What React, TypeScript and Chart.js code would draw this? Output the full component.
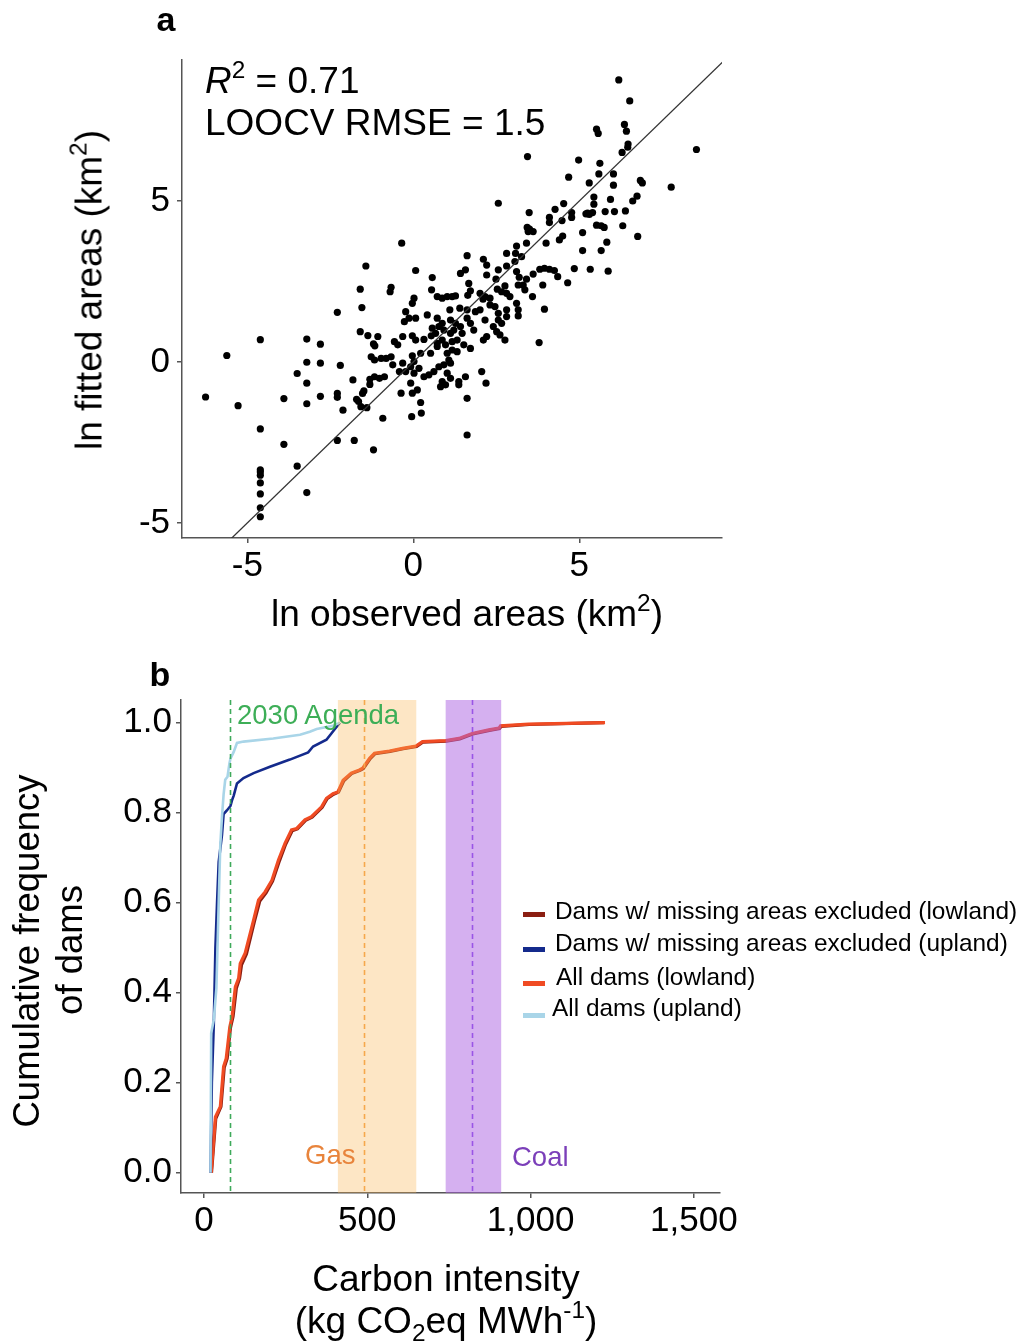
import React, { useEffect, useRef } from 'react';
import { Chart, registerables } from 'chart.js';

Chart.register(...registerables);

const FONT = "'Liberation Sans', Arial, Helvetica, sans-serif";
const AXIS = '#555555';

// ---------------- Panel a data ----------------
const scatterPoints: [number, number][] = [
  // upper points
  [6.19, 8.76], [6.52, 8.11], [5.52, 7.23], [5.57, 7.10], [6.36, 7.38], [6.42, 7.17], [6.47, 6.77],
  [6.46, 6.67], [6.29, 6.51], [8.53, 6.60], [3.44, 6.38], [4.98, 6.27], [5.62, 6.17],
  // high points
  [3.49, 4.64], [3.50, 4.13], [3.43, 4.18], [4.10, 4.33], [4.10, 4.49], [4.27, 4.74], [4.53, 4.92],
  [4.68, 5.74], [4.77, 4.49], [4.77, 4.64], [5.20, 4.60], [5.25, 4.62], [5.30, 4.58], [5.40, 4.64],
  [5.30, 5.56], [5.44, 5.12], [5.44, 4.90], [5.59, 5.84], [5.66, 4.23], [5.75, 4.18], [5.52, 4.25],
  [5.78, 4.67], [6.06, 4.67], [5.94, 5.05], [6.03, 5.49], [6.03, 5.84], [6.31, 4.23], [6.39, 4.69],
  [6.61, 5.00], [6.74, 5.15], [6.84, 5.64], [6.90, 5.56], [7.77, 5.43], [2.56, 4.93], [4.48, 4.39],
  // right points
  [5.10, 4.02], [5.10, 3.46], [5.33, 2.88], [5.66, 3.46], [5.83, 3.72], [5.87, 2.82], [6.76, 3.90], [4.85, 2.90],
  // lower-left points
  [-6.26, -1.09], [-5.62, 0.20], [-5.28, -1.36], [-4.61, 0.69], [-4.61, -2.08], [-4.61, -3.35], [-4.61, -3.42],
  [-4.61, -3.52], [-4.61, -3.76], [-4.61, -4.10], [-4.61, -4.53], [-4.61, -4.81], [-3.90, -1.14], [-3.90, -2.56],
  [-3.50, -3.24], [-3.50, -0.36], [-3.21, 0.71], [-3.21, -0.01], [-3.21, -0.66], [-3.21, -1.30], [-3.21, -4.06],
  [-2.80, 0.55], [-2.80, -0.04], [-2.80, -1.07], [-2.29, 1.54], [-2.29, -0.98], [-2.29, -1.10], [-2.20, -0.11],
  [-2.29, -2.44], [-2.12, -1.50], [-1.82, -0.56], [-1.78, -2.44], [-1.60, 2.26], [-1.55, 1.69], [-1.60, 0.94],
  [-1.43, 2.98], [-1.37, 0.82], [-1.71, -1.16], [-1.65, -1.23], [-1.58, -1.39], [-1.49, -0.90], [-1.53, -0.98],
  [-1.40, -1.42], [-1.31, -0.70], [-1.31, -0.54], [-1.20, -2.73], [-1.20, 0.56], [-1.16, 0.50],
  // core points
  [3.46, 4.05], [3.61, 4.05], [4.50, 3.91], [4.40, 3.79], [4.00, 3.69], [3.41, 3.69], [3.11, 3.60], [-0.35, 3.69],
  [1.62, 3.30], [2.11, 3.19], [2.81, 3.37], [3.08, 3.37], [3.26, 3.27], [3.06, 3.12], [2.21, 3.01], [2.56, 2.86],
  [2.81, 2.98], [1.42, 2.75], [1.57, 2.86], [0.07, 2.84], [0.57, 2.62], [2.21, 2.70], [2.49, 2.57], [3.11, 2.81],
  [3.19, 2.63], [3.41, 2.57], [3.61, 2.73], [3.81, 2.88], [3.95, 2.91], [4.10, 2.88], [4.25, 2.84], [4.35, 2.65],
  [4.65, 2.46], [3.90, 2.39], [3.59, 2.03], [3.95, 1.64], [3.79, 0.60],
  [-0.67, 2.32], [-0.70, 2.18], [0.55, 2.24], [1.67, 2.44], [1.72, 2.21], [1.64, 2.07], [2.01, 2.13], [2.16, 2.03],
  [2.31, 1.98], [2.53, 2.26], [2.66, 2.18], [2.76, 2.36], [2.81, 2.13], [2.91, 2.03], [3.16, 2.39], [3.31, 2.39],
  [3.36, 2.24], [3.11, 1.82], [3.16, 1.62], [3.16, 1.43],
  [0.72, 2.03], [0.87, 1.98], [1.02, 2.03], [1.17, 2.03], [1.27, 2.05], [0.02, 1.98], [-0.03, 1.82], [1.10, 1.62],
  [1.40, 1.67], [1.62, 1.62], [1.87, 1.56], [2.10, 1.95], [2.31, 1.77], [2.46, 1.72], [2.56, 1.51], [2.81, 1.62],
  [2.81, 1.41], [2.56, 1.30], [2.66, 1.20], [2.41, 1.10], [2.16, 1.30], [2.01, 1.62],
  [-0.23, 1.56], [-0.13, 1.36], [-0.27, 1.25], [0.07, 1.36], [0.42, 1.46], [0.72, 1.36], [0.87, 1.20], [1.12, 1.30],
  [1.27, 1.20], [1.42, 1.10], [1.62, 1.36], [1.72, 1.20], [1.82, 0.99], [1.47, 0.89], [1.22, 0.99], [1.12, 0.89],
  [0.92, 0.99], [0.77, 1.10], [0.67, 0.89], [0.57, 1.05],
  [-1.07, 0.79], [-0.57, 0.63], [-0.32, 0.79], [-0.03, 0.81], [0.07, 0.68], [0.32, 0.70], [0.54, 0.81], [0.72, 0.58],
  [0.87, 0.68], [0.97, 0.53], [1.17, 0.63], [1.32, 0.68], [1.52, 0.53], [1.72, 0.42], [2.11, 0.68], [2.21, 0.79],
  [2.51, 0.94], [2.61, 0.84], [2.76, 0.68],
  [-1.27, 0.16], [-1.17, 0.06], [-0.97, 0.11], [-0.82, 0.11], [-0.67, 0.16], [-0.47, 0.53], [-0.32, -0.04],
  [-0.03, 0.19], [0.02, 0.01], [0.22, 0.27], [0.52, 0.27], [0.72, 0.48], [1.02, 0.27], [1.07, 0.06], [1.17, 0.37],
  [1.32, 0.32],
  [-1.17, -0.46], [-1.02, -0.51], [-0.87, -0.46], [-0.62, -0.09], [-0.42, -0.30], [-0.23, -0.30], [-0.08, -0.15],
  [0.02, -0.35], [0.17, -0.20], [0.32, -0.46], [0.47, -0.40], [0.62, -0.30], [0.77, -0.15], [0.92, -0.09],
  [1.12, -0.04], [1.02, -0.35], [1.12, -0.51], [0.87, -0.61], [0.82, -0.77], [0.97, -0.71], [1.37, -0.61],
  [1.37, -0.71], [1.57, -0.46], [2.06, -0.30], [2.19, -0.66],
  [-0.37, -0.97], [-0.08, -0.66], [-0.03, -0.97], [0.12, -0.87], [0.22, -1.26], [0.24, -1.59], [-0.05, -1.70],
  [-0.92, -1.75], [1.62, -1.13], [1.62, -2.27],
];
const identityLine: [number, number][] = [[-8, -8], [11, 11]];
const aXRange = [-6.97, 9.3];
const aYRange = [-5.47, 9.38];
const aXTicks = [-5, 0, 5];
const aXTickLabels = ['-5', '0', '5'];
const aYTicks = [-5, 0, 5];
const aYTickLabels = ['-5', '0', '5'];

// ---------------- Panel b data ----------------
const allUpland: [number, number][] = [
  [20, 0], [22, 0.31], [30, 0.34], [38, 0.41], [45, 0.6], [50, 0.73], [55, 0.79], [60, 0.84], [65, 0.873],
  [72, 0.88], [78, 0.91], [81, 0.92], [91, 0.935], [101, 0.955], [121, 0.958], [212, 0.965], [294, 0.973],
  [324, 0.98], [345, 0.986], [395, 0.993], [416, 1.0],
];
const excludedUpland: [number, number][] = [
  [20, 0], [24, 0.2], [30, 0.33], [35, 0.5], [40, 0.6], [45, 0.69], [55, 0.75], [60, 0.797], [70, 0.805],
  [81, 0.815], [86, 0.828], [91, 0.838], [101, 0.865], [121, 0.877], [152, 0.888], [202, 0.902], [263, 0.918],
  [319, 0.934], [334, 0.947], [375, 0.962], [390, 0.976], [416, 1.0],
];
const allLowland: [number, number][] = [
  [22, 0], [35, 0.124], [50, 0.147], [60, 0.236], [68, 0.254], [79, 0.324], [86, 0.347], [96, 0.413],
  [106, 0.432], [111, 0.465], [126, 0.488], [152, 0.562], [167, 0.606], [187, 0.624], [208, 0.65], [228, 0.695],
  [248, 0.732], [268, 0.762], [284, 0.765], [309, 0.784], [329, 0.791], [360, 0.813], [375, 0.832], [395, 0.842],
  [410, 0.846], [426, 0.872], [451, 0.888], [476, 0.895], [486, 0.899], [507, 0.921], [522, 0.932], [568, 0.937],
  [608, 0.943], [649, 0.948], [669, 0.958], [740, 0.96], [781, 0.965], [821, 0.976], [872, 0.984], [903, 0.988],
  [908, 0.993], [994, 0.997], [1228, 1.0],
];
const excludedLowland: [number, number][] = [
  [23, 0], [36, 0.12], [52, 0.147], [62, 0.234], [71, 0.254], [81, 0.322], [89, 0.347], [99, 0.41],
  [109, 0.432], [115, 0.462], [130, 0.486], [155, 0.56], [171, 0.604], [190, 0.622], [210, 0.648], [231, 0.693],
  [250, 0.73], [270, 0.76], [286, 0.764], [311, 0.783], [331, 0.79], [362, 0.812], [377, 0.831], [397, 0.841],
  [412, 0.846], [428, 0.871], [452, 0.887], [478, 0.894], [488, 0.898], [509, 0.92], [524, 0.931], [570, 0.936],
  [610, 0.942], [651, 0.947], [671, 0.957], [742, 0.959], [783, 0.964], [823, 0.975], [874, 0.983], [905, 0.987],
  [910, 0.992], [996, 0.996], [1225, 1.0],
];
const bXRange = [-70.4, 1580];
const bYRange = [-0.045, 1.0504];
const bXTicks = [0, 500, 1000, 1500];
const bXTickLabels = ['0', '500', '1,000', '1,500'];
const bYTicks = [0, 0.2, 0.4, 0.6, 0.8, 1.0];
const bYTickLabels = ['0.0', '0.2', '0.4', '0.6', '0.8', '1.0'];
const agendaTarget = 80;
const gasRange = [410, 650];
const gasMedian = 490;
const coalRange = [740, 910];
const coalMedian = 820;

const COLORS = {
  excludedLowland: '#8B1E12',
  excludedUpland: '#142A8C',
  allLowland: '#F04B23',
  allUpland: '#A9D5E8',
};

const toXY = (arr: [number, number][]) => arr.map(([x, y]) => ({ x, y }));

function axisOpts(range: number[], ticks: number[], labels: string[], size: number, fit: (s: any) => void, pad: number) {
  return {
    type: 'linear' as const,
    min: range[0],
    max: range[1],
    afterFit: fit,
    afterBuildTicks: (axis: any) => {
      axis.ticks = ticks.map((v) => ({ value: v }));
    },
    ticks: {
      autoSkip: false,
      maxRotation: 0,
      padding: pad,
      color: '#000',
      font: { family: FONT, size },
      callback: (v: any) => labels[ticks.indexOf(Number(v))] ?? '',
    },
    grid: { display: true, drawOnChartArea: false, drawTicks: true, tickLength: 5, color: AXIS, lineWidth: 1.5 },
    border: { display: true, color: AXIS, width: 1.5 },
  };
}

const bandPlugin = {
  id: 'energyBands',
  afterDatasetsDraw(chart: any) {
    const { ctx, chartArea, scales } = chart;
    const x = scales.x;
    const { top, bottom } = chartArea;
    ctx.save();
    const band = (r: number[], color: string) => {
      const a = x.getPixelForValue(r[0]);
      const b = x.getPixelForValue(r[1]);
      ctx.fillStyle = color;
      ctx.fillRect(a, top, b - a, bottom - top);
    };
    band(gasRange, 'rgba(250,180,80,0.33)');
    band(coalRange, 'rgba(171,97,225,0.5)');
    const dash = (v: number, color: string) => {
      const px = Math.round(x.getPixelForValue(v)) + 0.5;
      ctx.strokeStyle = color;
      ctx.lineWidth = 1.6;
      ctx.setLineDash([5, 4]);
      ctx.beginPath();
      ctx.moveTo(px, top);
      ctx.lineTo(px, bottom);
      ctx.stroke();
    };
    dash(agendaTarget, '#3FAA5B');
    dash(gasMedian, '#F6A84C');
    dash(coalMedian, '#9A55E6');
    ctx.restore();
  },
};

const Sup = ({ children }: { children: React.ReactNode }) => (
  <span style={{ fontSize: '0.66em', position: 'relative', top: '-0.6em' }}>{children}</span>
);
const Sub = ({ children }: { children: React.ReactNode }) => (
  <span style={{ fontSize: '0.66em', position: 'relative', top: '0.32em' }}>{children}</span>
);

type TxtProps = {
  x: number; y: number; size: number; children: React.ReactNode;
  anchor?: 'left' | 'center'; rotate?: boolean; color?: string; bold?: boolean;
};
const Txt = ({ x, y, size, children, anchor = 'center', rotate = false, color = '#000', bold = false }: TxtProps) => (
  <div
    style={{
      position: 'absolute',
      left: x,
      top: y,
      fontSize: size,
      lineHeight: 1,
      whiteSpace: 'nowrap',
      color,
      fontWeight: bold ? 'bold' : 'normal',
      fontFamily: FONT,
      transform: `translate(${anchor === 'center' ? '-50%' : '0'}, -50%)${rotate ? ' rotate(-90deg)' : ''}`,
      transformOrigin: 'center',
    }}
  >
    {children}
  </div>
);

const legendItems = [
  { label: 'Dams w/ missing areas excluded (lowland)', color: COLORS.excludedLowland, y: 911, sy: 914, tx: 555 },
  { label: 'Dams w/ missing areas excluded (upland)', color: COLORS.excludedUpland, y: 943, sy: 949, tx: 555 },
  { label: 'All dams (lowland)', color: COLORS.allLowland, y: 977, sy: 983, tx: 556 },
  { label: 'All dams (upland)', color: COLORS.allUpland, y: 1008, sy: 1015, tx: 552 },
];

export default function App() {
  const aRef = useRef<HTMLCanvasElement>(null);
  const bRef = useRef<HTMLCanvasElement>(null);

  useEffect(() => {
    const chartA = new Chart(aRef.current as HTMLCanvasElement, {
      type: 'scatter',
      data: {
        datasets: [
          {
            data: toXY(identityLine),
            showLine: true,
            borderColor: '#333333',
            borderWidth: 1.3,
            pointRadius: 0,
          } as any,
          {
            data: toXY(scatterPoints),
            backgroundColor: '#000',
            borderWidth: 0,
            pointRadius: 3.6,
          } as any,
        ],
      },
      options: {
        animation: false,
        responsive: false,
        devicePixelRatio: 1,
        layout: { padding: { left: 0, top: 60, right: 296, bottom: 0 } },
        plugins: { legend: { display: false }, tooltip: { enabled: false } },
        scales: {
          x: axisOpts(aXRange, aXTicks, aXTickLabels, 35, (s: any) => { s.height = 112; }, 2) as any,
          y: axisOpts(aYRange, aYTicks, aYTickLabels, 35, (s: any) => { s.width = 182; }, 7) as any,
        },
      },
    });

    const line = (d: [number, number][], color: string, w: number) => ({
      data: toXY(d),
      showLine: true,
      borderColor: color,
      backgroundColor: color,
      borderWidth: w,
      pointRadius: 0,
      tension: 0,
    });

    const chartB = new Chart(bRef.current as HTMLCanvasElement, {
      type: 'scatter',
      data: {
        datasets: [
          line(allUpland, COLORS.allUpland, 2.6) as any,
          line(excludedUpland, COLORS.excludedUpland, 2.6) as any,
          line(allLowland, COLORS.allLowland, 3.2) as any,
          line(excludedLowland, COLORS.excludedLowland, 3.2) as any,
        ],
      },
      options: {
        animation: false,
        responsive: false,
        devicePixelRatio: 1,
        layout: { padding: { left: 0, top: 50, right: 298, bottom: 0 } },
        plugins: { legend: { display: false }, tooltip: { enabled: false } },
        scales: {
          x: axisOpts(bXRange, bXTicks, bXTickLabels, 35, (s: any) => { s.height = 148; }, 2) as any,
          y: axisOpts(bYRange, bYTicks, bYTickLabels, 35, (s: any) => { s.width = 181; }, 4) as any,
        },
      },
      plugins: [bandPlugin],
    });

    return () => {
      chartA.destroy();
      chartB.destroy();
    };
  }, []);

  return (
    <div style={{ position: 'absolute', left: 0, top: 0, width: 1018, height: 1341, background: '#fff', overflow: 'hidden', fontFamily: FONT }}>
      <canvas ref={aRef} width={1018} height={650} style={{ position: 'absolute', left: 0, top: 0, width: 1018, height: 650 }} />
      <canvas ref={bRef} width={1018} height={691} style={{ position: 'absolute', left: 0, top: 650, width: 1018, height: 691 }} />

      {/* panel a texts */}
      <Txt x={166} y={19} size={34} bold>a</Txt>
      <Txt x={205} y={80} size={37} anchor="left">
        <span style={{ fontStyle: 'italic' }}>R</span><Sup>2</Sup> = 0.71
      </Txt>
      <Txt x={205} y={122} size={37} anchor="left">LOOCV RMSE = 1.5</Txt>
      <Txt x={467} y={613} size={37}>ln observed areas (km<Sup>2</Sup>)</Txt>
      <Txt x={89} y={290} size={37} rotate>ln fitted areas (km<Sup>2</Sup>)</Txt>

      {/* panel b texts */}
      <Txt x={160} y={674} size={34} bold>b</Txt>
      <Txt x={237} y={715} size={27.5} anchor="left" color="#3DAE57">2030 Agenda</Txt>
      <Txt x={305} y={1155} size={27.5} anchor="left" color="#E8843C">Gas</Txt>
      <Txt x={512} y={1157} size={27.5} anchor="left" color="#7B3FB9">Coal</Txt>
      <Txt x={27} y={951} size={36.5} rotate>Cumulative frequency</Txt>
      <Txt x={70} y={950} size={36.5} rotate>of dams</Txt>
      <Txt x={446} y={1278} size={37}>Carbon intensity</Txt>
      <Txt x={446} y={1320} size={37}>(kg CO<Sub>2</Sub>eq MWh<Sup>-1</Sup>)</Txt>

      {legendItems.map((it) => (
        <React.Fragment key={it.label}>
          <div style={{ position: 'absolute', left: 523, top: it.sy - 2.5, width: 22, height: 5, background: it.color }} />
          <Txt x={it.tx} y={it.y} size={24.4} anchor="left">{it.label}</Txt>
        </React.Fragment>
      ))}
    </div>
  );
}
